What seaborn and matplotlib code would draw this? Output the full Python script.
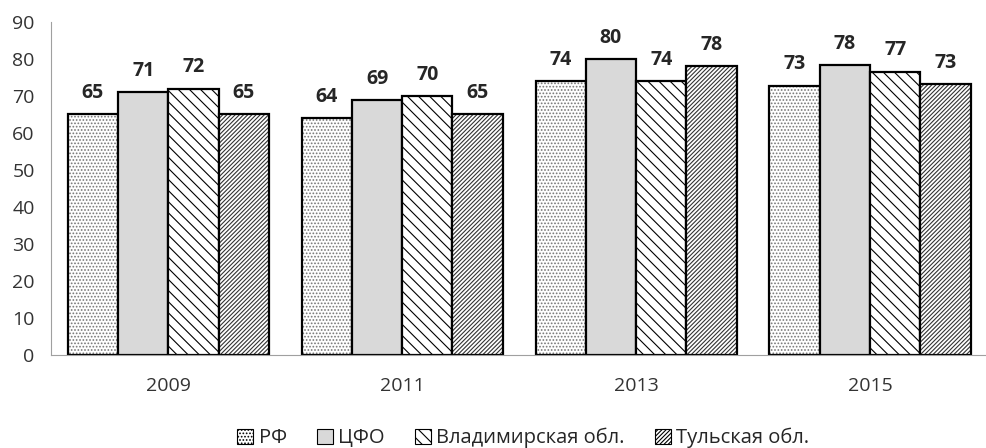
import numpy as np
import pandas as pd
import matplotlib
matplotlib.use("Agg")
import matplotlib.pyplot as plt
import seaborn as sns

# data
years = ["2009", "2011", "2013", "2015"]
regions = ["РФ", "ЦФО", "Владимирская обл.", "Тульская обл."]
rf = [65, 64, 74, 72.8]
cfo = [71, 69, 80, 78.4]
vlad = [72, 70, 74, 76.6]
tula = [65, 65, 78, 73.3]
labels = [[65, 64, 74, 73], [71, 69, 80, 78], [72, 70, 74, 77], [65, 65, 78, 73]]

rows = []
for reg, vals in zip(regions, [rf, cfo, vlad, tula]):
    for y, v in zip(years, vals):
        rows.append({"year": y, "region": reg, "value": v})
df = pd.DataFrame(rows)

sns.set_style("white")
plt.rcParams['font.family'] = ['Open Sans', 'DejaVu Sans']
plt.rcParams['hatch.linewidth'] = 0.8

fig = plt.figure(figsize=(9.87, 4.48), dpi=100)
ax = fig.add_axes([0.052, 0.208, 0.948, 0.743])

sns.barplot(data=df, x="year", y="value", hue="region", order=years,
            hue_order=regions, width=0.86, ax=ax, legend=False,
            edgecolor="black", linewidth=1.6, errorbar=None)

# fills: dots, solid grey, sparse back-slash, dense slash
styles = [
    dict(facecolor="white", hatch=".....", hatch_color="#777777"),
    dict(facecolor="#d9d9d9", hatch=None, hatch_color="black"),
    dict(facecolor="white", hatch="\\\\\\", hatch_color="black"),
    dict(facecolor="white", hatch="////////", hatch_color="#333333"),
]

handles = []
for cont, st, labs in zip(ax.containers, styles, labels):
    for bar in cont:
        bar.set_facecolor(st["facecolor"])
        if st["hatch"]:
            bar.set_hatch(st["hatch"])
            bar._hatch_color = matplotlib.colors.to_rgba(st["hatch_color"])
    ax.bar_label(cont, labels=[str(l) for l in labs], padding=8,
                 fontsize=14, fontweight="bold")
    p = matplotlib.patches.Patch(facecolor=st["facecolor"], edgecolor="black",
                                 hatch=st["hatch"], linewidth=0.8)
    handles.append(p)

ax.set_ylim(0, 90)
ax.set_yticks(range(0, 91, 10))
ax.set_xlim(-0.5, 3.5)
ax.set_xlabel("")
ax.set_ylabel("")
ax.tick_params(axis="both", length=0, labelsize=14, colors="#333333")
ax.tick_params(axis="y", pad=12)
ax.tick_params(axis="x", pad=16)
for s in ["top", "right"]:
    ax.spines[s].set_visible(False)
ax.spines["left"].set_color("#a0a0a0")
ax.spines["bottom"].set_color("#a0a0a0")

fig.legend(handles, regions, loc="center", bbox_to_anchor=(0.53, 0.022),
           ncol=4, frameon=False, fontsize=14.5, handlelength=0.8,
           handleheight=0.8, handletextpad=0.25, columnspacing=1.5)

fig.savefig("out.png", dpi=100)
